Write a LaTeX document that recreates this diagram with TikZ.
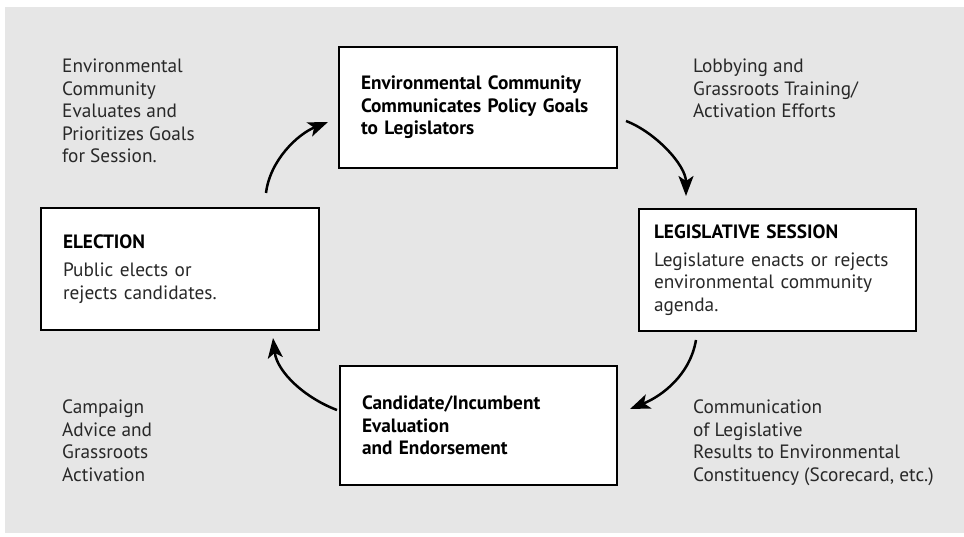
\documentclass[tikz,border=0pt]{standalone}
\usepackage{fontspec}
\setmainfont{PT Sans}
\usetikzlibrary{arrows.meta}
\definecolor{bggray}{RGB}{230,230,230}
\definecolor{txtgray}{RGB}{40,40,40}
\begin{document}
\begin{tikzpicture}[x=1pt,y=-1pt,
  txt/.style={font=\fontsize{19.3}{22.5}\selectfont},
  box/.style={txt, draw=black, line width=2.7pt, fill=white, align=left, text=black},
  sidelabel/.style={txt, anchor=north west, inner sep=0pt, align=left, text=txtgray},
  arr/.style={line width=2.5pt, -{Stealth[length=20pt,width=15pt,inset=5pt]}}]
\useasboundingbox (0,0) rectangle (964,537);
\fill[bggray] (5,7) rectangle (964,533);

% boxes
\node[box, minimum width=278pt, minimum height=121pt, text width=234pt, inner xsep=22pt] (goals) at (478,107.5)
  {\bfseries Environmental Community\\ \bfseries Communicates Policy Goals\\ \bfseries to Legislators};
\node[box, minimum width=278pt, minimum height=122pt, text width=234pt, inner xsep=22pt] (election) at (180,269)
  {\textbf{ELECTION}\\[6pt]{\color{txtgray}Public elects or}\\{\color{txtgray}rejects candidates.}};
\node[box, minimum width=277pt, minimum height=122pt, text width=247pt, inner xsep=15pt] (session) at (777.5,270)
  {\textbf{LEGISLATIVE SESSION}\\[5pt]{\color{txtgray}Legislature enacts or rejects}\\{\color{txtgray}environmental community}\\{\color{txtgray}agenda.}};
\node[box, minimum width=277pt, minimum height=119pt, text width=233pt, inner xsep=22pt] (endorse) at (478.5,425.5)
  {\bfseries Candidate/Incumbent\\ \bfseries Evaluation\\ \bfseries and Endorsement};

% side labels
\node[sidelabel] (evalgoals) at (62,59) {Environmental\\Community\\Evaluates and\\Prioritizes Goals\\for Session.};
\node[sidelabel] (lobby) at (693,59) {Lobbying and\\Grassroots Training/\\Activation Efforts};
\node[sidelabel] (results) at (693,400) {Communication\\of Legislative\\Results to Environmental\\Constituency (Scorecard, etc.)};
\node[sidelabel] (campaign) at (62,400) {Campaign\\Advice and\\Grassroots\\Activation};

% arrow end points
\coordinate (a1s) at (266,193);
\coordinate (a1e) at (328,122);
\coordinate (a2s) at (626,121);
\coordinate (a2e) at (686,196);
\coordinate (a3s) at (696,340);
\coordinate (a3e) at (630,409);
\coordinate (a4s) at (337,410);
\coordinate (a4e) at (273,338);

\draw[arr] (a1s) .. controls (270,160) and (298,134) .. (a1e);
\draw[arr] (a2s) .. controls (655,132) and (686,165) .. (a2e);
\draw[arr] (a3s) .. controls (690,375) and (662,396) .. (a3e);
\draw[arr] (a4s) .. controls (305,398) and (277,372) .. (a4e);
\end{tikzpicture}
\end{document}
